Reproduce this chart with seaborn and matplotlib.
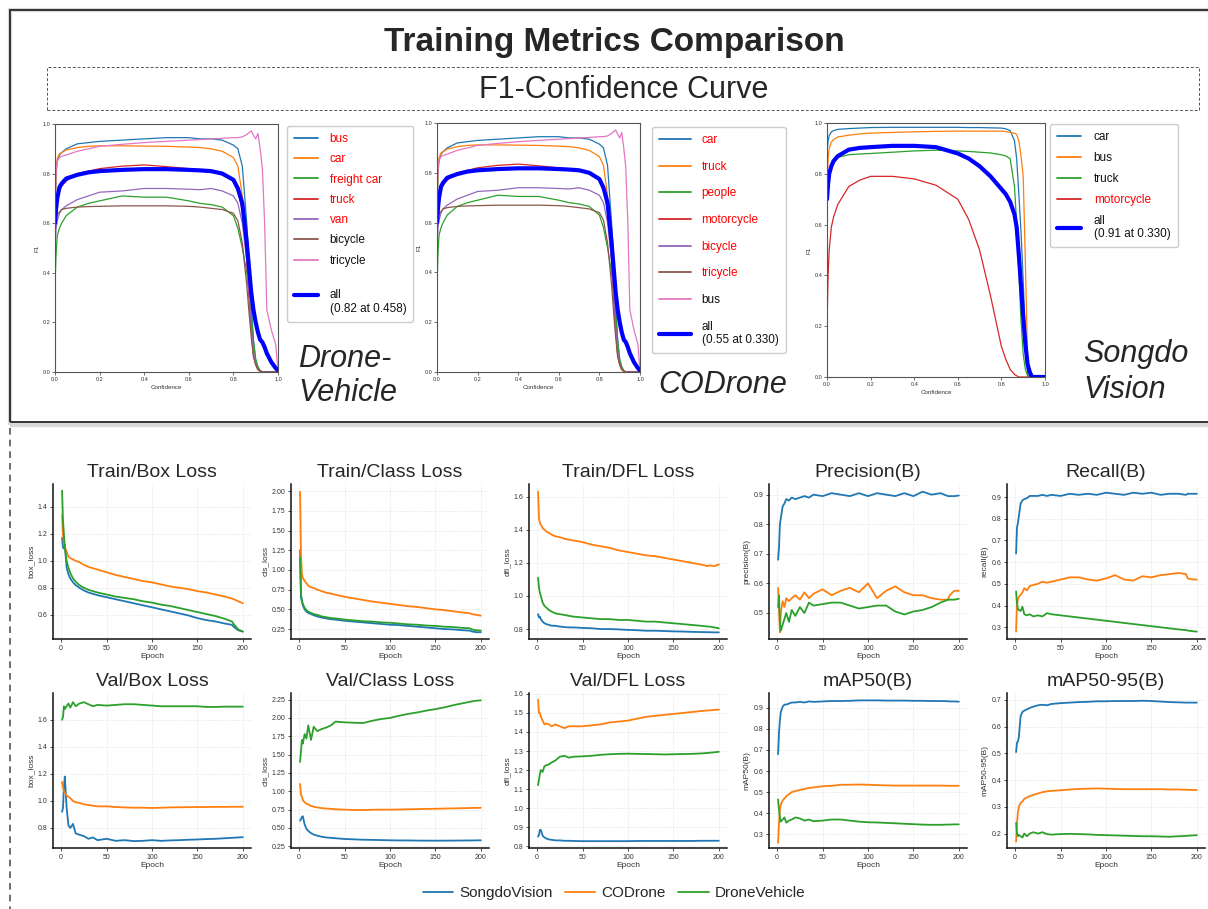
import numpy as np
import pandas as pd
import seaborn as sns
import matplotlib.pyplot as plt
from matplotlib.patches import Rectangle
from matplotlib.lines import Line2D

# ---------------- F1-confidence data ----------------
conf = [0.0, 0.005, 0.01, 0.02, 0.03, 0.05, 0.1, 0.15,
        0.2, 0.3, 0.4, 0.5, 0.6, 0.65, 0.7, 0.75,
        0.8, 0.82, 0.84, 0.86, 0.87, 0.88, 0.89, 0.9,
        0.91, 0.92, 0.93, 0.94, 0.95, 0.97, 0.99, 1.0]

# DroneVehicle panel (the CODrone panel shows the same curves)
dv_bus = [0.62, 0.80, 0.85, 0.875, 0.885, 0.90, 0.92, 0.925,
          0.93, 0.935, 0.94, 0.945, 0.945, 0.94, 0.94, 0.935,
          0.915, 0.90, 0.83, 0.60, 0.45, 0.27, 0.13, 0.05,
          0.02, 0.005, 0.0, 0.0, 0.0, 0.0, 0.0, 0.0]
dv_car = [0.60, 0.82, 0.86, 0.88, 0.885, 0.895, 0.905, 0.91,
          0.912, 0.912, 0.911, 0.91, 0.907, 0.905, 0.90, 0.89,
          0.865, 0.83, 0.71, 0.46, 0.33, 0.18, 0.07, 0.03,
          0.01, 0.0, 0.0, 0.0, 0.0, 0.0, 0.0, 0.0]
dv_freight = [0.35, 0.48, 0.55, 0.58, 0.60, 0.63, 0.665, 0.68,
              0.69, 0.71, 0.705, 0.705, 0.69, 0.68, 0.675, 0.665,
              0.63, 0.58, 0.50, 0.40, 0.32, 0.24, 0.12, 0.05,
              0.02, 0.005, 0.0, 0.0, 0.0, 0.0, 0.0, 0.0]
dv_truck = [0.60, 0.66, 0.70, 0.73, 0.75, 0.77, 0.80, 0.81,
            0.82, 0.83, 0.835, 0.828, 0.82, 0.815, 0.81, 0.80,
            0.77, 0.73, 0.65, 0.45, 0.30, 0.17, 0.07, 0.03,
            0.01, 0.005, 0.0, 0.0, 0.0, 0.0, 0.0, 0.0]
dv_van = [0.50, 0.58, 0.61, 0.64, 0.655, 0.67, 0.695, 0.71,
          0.725, 0.73, 0.74, 0.74, 0.737, 0.735, 0.74, 0.73,
          0.71, 0.68, 0.60, 0.45, 0.32, 0.18, 0.08, 0.03,
          0.01, 0.005, 0.0, 0.0, 0.0, 0.0, 0.0, 0.0]
dv_bicycle = [0.60, 0.62, 0.635, 0.645, 0.655, 0.66, 0.665, 0.667,
              0.668, 0.67, 0.67, 0.67, 0.668, 0.665, 0.66, 0.655,
              0.64, 0.61, 0.52, 0.35, 0.24, 0.14, 0.06, 0.03,
              0.01, 0.005, 0.0, 0.0, 0.0, 0.0, 0.0, 0.0]
dv_tricycle = [0.70, 0.82, 0.85, 0.865, 0.87, 0.875, 0.89, 0.90,
               0.91, 0.918, 0.925, 0.93, 0.935, 0.937, 0.94, 0.942,
               0.945, 0.945, 0.948, 0.958, 0.965, 0.972, 0.955, 0.94,
               0.962, 0.90, 0.82, 0.60, 0.25, 0.17, 0.11, 0.0]
dv_all = [0.60, 0.66, 0.70, 0.745, 0.76, 0.78, 0.795, 0.805,
          0.81, 0.815, 0.818, 0.818, 0.815, 0.813, 0.81, 0.80,
          0.775, 0.74, 0.68, 0.52, 0.42, 0.32, 0.25, 0.20,
          0.16, 0.13, 0.12, 0.10, 0.075, 0.04, 0.015, 0.007]

# SongdoVision panel
sv_car = [0.88, 0.93, 0.95, 0.965, 0.97, 0.975, 0.978, 0.98,
          0.982, 0.983, 0.983, 0.983, 0.983, 0.982, 0.982, 0.981,
          0.98, 0.977, 0.97, 0.93, 0.86, 0.72, 0.57, 0.38,
          0.15, 0.01, 0.0, 0.0, 0.0, 0.0, 0.0, 0.0]
sv_bus = [0.75, 0.86, 0.90, 0.925, 0.935, 0.945, 0.952, 0.957,
          0.96, 0.963, 0.965, 0.967, 0.968, 0.968, 0.968, 0.968,
          0.968, 0.966, 0.963, 0.96, 0.955, 0.93, 0.87, 0.79,
          0.45, 0.08, 0.0, 0.0, 0.0, 0.0, 0.0, 0.0]
sv_truck = [0.65, 0.76, 0.80, 0.84, 0.855, 0.865, 0.875, 0.878,
            0.88, 0.885, 0.89, 0.893, 0.89, 0.888, 0.885, 0.882,
            0.875, 0.87, 0.86, 0.75, 0.60, 0.42, 0.22, 0.09,
            0.03, 0.005, 0.0, 0.0, 0.0, 0.0, 0.0, 0.0]
sv_motorcycle = [0.20, 0.40, 0.50, 0.59, 0.63, 0.68, 0.75, 0.775,
                 0.79, 0.79, 0.78, 0.755, 0.70, 0.62, 0.50, 0.32,
                 0.12, 0.07, 0.03, 0.01, 0.005, 0.0, 0.0, 0.0,
                 0.0, 0.0, 0.0, 0.0, 0.0, 0.0, 0.0, 0.0]
sv_all = [0.70, 0.76, 0.80, 0.83, 0.85, 0.87, 0.895, 0.902,
          0.905, 0.91, 0.91, 0.905, 0.88, 0.86, 0.83, 0.79,
          0.74, 0.72, 0.69, 0.64, 0.59, 0.48, 0.36, 0.24,
          0.13, 0.05, 0.02, 0.0, 0.0, 0.0, 0.0, 0.0]

dv_labels = ["bus", "car", "freight car", "truck", "van", "bicycle", "tricycle",
             "\nall\n(0.82 at 0.458)"]
cd_labels = ["car", "truck", "people", "motorcycle", "bicycle", "tricycle", "bus",
             "all\n(0.55 at 0.330)"]
sv_labels = ["car", "bus", "truck", "motorcycle", "all\n(0.91 at 0.330)"]

# ---------------- training curves ----------------
epochs = [1, 2, 3, 4, 6, 8, 10, 13,
          16, 20, 25, 30, 35, 40, 50, 60,
          70, 80, 90, 100, 110, 120, 130, 140,
          150, 160, 170, 180, 188, 190, 195, 200]

train_box_sv = [1.17, 1.10, 1.09, 1.12, 0.95, 0.90, 0.87, 0.84,
                0.82, 0.80, 0.78, 0.765, 0.755, 0.745, 0.73, 0.715,
                0.70, 0.685, 0.67, 0.655, 0.64, 0.625, 0.61, 0.595,
                0.575, 0.56, 0.55, 0.535, 0.525, 0.51, 0.485, 0.475]
train_box_cd = [1.34, 1.20, 1.12, 1.10, 1.07, 1.03, 1.02, 1.01,
                1.00, 0.99, 0.97, 0.955, 0.945, 0.935, 0.915, 0.895,
                0.88, 0.865, 0.85, 0.84, 0.825, 0.81, 0.80, 0.79,
                0.775, 0.765, 0.75, 0.735, 0.72, 0.715, 0.70, 0.685]
train_box_dv = [1.52, 1.30, 1.20, 1.10, 1.00, 0.95, 0.91, 0.87,
                0.845, 0.82, 0.80, 0.785, 0.775, 0.765, 0.75, 0.735,
                0.725, 0.715, 0.70, 0.69, 0.675, 0.665, 0.65, 0.635,
                0.62, 0.605, 0.59, 0.57, 0.55, 0.53, 0.49, 0.475]

train_cls_sv = [1.25, 0.65, 0.60, 0.55, 0.50, 0.47, 0.455, 0.44,
                0.425, 0.41, 0.395, 0.385, 0.375, 0.37, 0.355, 0.345,
                0.335, 0.325, 0.315, 0.305, 0.30, 0.29, 0.28, 0.27,
                0.26, 0.25, 0.245, 0.235, 0.23, 0.22, 0.21, 0.21]
train_cls_cd = [1.99, 1.20, 0.95, 0.90, 0.86, 0.83, 0.80, 0.78,
                0.77, 0.75, 0.73, 0.71, 0.70, 0.685, 0.66, 0.64,
                0.62, 0.60, 0.585, 0.57, 0.555, 0.54, 0.53, 0.515,
                0.50, 0.49, 0.475, 0.46, 0.45, 0.44, 0.43, 0.42]
train_cls_dv = [1.15, 0.70, 0.62, 0.57, 0.52, 0.49, 0.47, 0.455,
                0.44, 0.43, 0.41, 0.40, 0.39, 0.385, 0.37, 0.36,
                0.35, 0.345, 0.335, 0.33, 0.32, 0.31, 0.305, 0.295,
                0.29, 0.28, 0.275, 0.265, 0.26, 0.245, 0.235, 0.23]

train_dfl_sv = [0.89, 0.87, 0.875, 0.86, 0.845, 0.835, 0.83, 0.825,
                0.82, 0.82, 0.815, 0.812, 0.81, 0.81, 0.807, 0.805,
                0.80, 0.80, 0.798, 0.795, 0.793, 0.79, 0.79, 0.788,
                0.786, 0.785, 0.783, 0.782, 0.781, 0.781, 0.78, 0.78]
train_dfl_cd = [1.63, 1.47, 1.44, 1.43, 1.41, 1.40, 1.39, 1.38,
                1.37, 1.36, 1.355, 1.345, 1.34, 1.335, 1.325, 1.31,
                1.30, 1.29, 1.275, 1.265, 1.255, 1.245, 1.24, 1.23,
                1.22, 1.21, 1.20, 1.19, 1.18, 1.185, 1.18, 1.19]
train_dfl_dv = [1.11, 1.05, 1.02, 1.00, 0.96, 0.94, 0.93, 0.915,
                0.905, 0.895, 0.89, 0.885, 0.88, 0.875, 0.87, 0.865,
                0.86, 0.86, 0.855, 0.855, 0.85, 0.845, 0.845, 0.84,
                0.835, 0.83, 0.825, 0.82, 0.815, 0.815, 0.81, 0.805]

precision_sv = [0.68, 0.72, 0.80, 0.82, 0.86, 0.87, 0.885, 0.88,
                0.89, 0.885, 0.89, 0.895, 0.89, 0.90, 0.895, 0.905,
                0.90, 0.895, 0.905, 0.895, 0.905, 0.90, 0.895, 0.905,
                0.895, 0.91, 0.90, 0.905, 0.895, 0.895, 0.895, 0.897]
precision_cd = [0.585, 0.52, 0.435, 0.50, 0.54, 0.52, 0.55, 0.54,
                0.55, 0.56, 0.545, 0.57, 0.55, 0.565, 0.58, 0.56,
                0.575, 0.585, 0.57, 0.60, 0.55, 0.575, 0.59, 0.57,
                0.56, 0.56, 0.55, 0.545, 0.545, 0.56, 0.575, 0.575]
precision_dv = [0.52, 0.56, 0.47, 0.44, 0.46, 0.48, 0.50, 0.47,
                0.51, 0.49, 0.52, 0.50, 0.535, 0.525, 0.53, 0.535,
                0.535, 0.525, 0.515, 0.52, 0.525, 0.525, 0.505, 0.495,
                0.505, 0.51, 0.52, 0.535, 0.545, 0.545, 0.545, 0.548]

recall_sv = [0.64, 0.76, 0.78, 0.81, 0.87, 0.885, 0.89, 0.895,
             0.905, 0.905, 0.905, 0.91, 0.905, 0.91, 0.905, 0.915,
             0.91, 0.915, 0.91, 0.92, 0.915, 0.91, 0.92, 0.915,
             0.92, 0.91, 0.915, 0.915, 0.91, 0.915, 0.915, 0.915]
recall_cd = [0.28, 0.40, 0.43, 0.44, 0.45, 0.46, 0.48, 0.47,
             0.49, 0.495, 0.50, 0.51, 0.505, 0.51, 0.52, 0.53,
             0.53, 0.52, 0.515, 0.525, 0.54, 0.52, 0.515, 0.535,
             0.53, 0.54, 0.545, 0.55, 0.545, 0.525, 0.52, 0.52]
recall_dv = [0.465, 0.41, 0.385, 0.38, 0.375, 0.395, 0.36, 0.355,
             0.36, 0.35, 0.355, 0.35, 0.365, 0.36, 0.355, 0.35,
             0.345, 0.34, 0.335, 0.33, 0.325, 0.32, 0.315, 0.31,
             0.305, 0.30, 0.295, 0.29, 0.287, 0.285, 0.282, 0.28]

val_box_sv = [0.92, 0.95, 1.10, 1.18, 0.95, 0.82, 0.80, 0.83,
              0.76, 0.75, 0.74, 0.72, 0.73, 0.71, 0.72, 0.705,
              0.71, 0.703, 0.705, 0.71, 0.705, 0.708, 0.71, 0.713,
              0.715, 0.718, 0.72, 0.724, 0.727, 0.728, 0.73, 0.732]
val_box_cd = [1.14, 1.10, 1.07, 1.06, 1.04, 1.03, 1.02, 1.00,
              0.99, 0.985, 0.975, 0.97, 0.965, 0.96, 0.96, 0.955,
              0.952, 0.95, 0.95, 0.948, 0.95, 0.952, 0.953, 0.954,
              0.955, 0.955, 0.956, 0.956, 0.957, 0.957, 0.957, 0.957]
val_box_dv = [1.60, 1.62, 1.70, 1.68, 1.70, 1.72, 1.69, 1.73,
              1.70, 1.72, 1.73, 1.715, 1.70, 1.71, 1.705, 1.71,
              1.715, 1.715, 1.71, 1.705, 1.70, 1.70, 1.70, 1.70,
              1.70, 1.695, 1.695, 1.697, 1.697, 1.697, 1.697, 1.697]

val_cls_sv = [0.60, 0.62, 0.65, 0.66, 0.55, 0.49, 0.46, 0.43,
              0.41, 0.395, 0.38, 0.37, 0.365, 0.36, 0.35, 0.345,
              0.34, 0.338, 0.335, 0.332, 0.33, 0.33, 0.328, 0.327,
              0.327, 0.327, 0.328, 0.329, 0.33, 0.33, 0.331, 0.332]
val_cls_cd = [1.10, 0.95, 0.93, 0.88, 0.85, 0.83, 0.82, 0.80,
              0.79, 0.78, 0.77, 0.765, 0.76, 0.755, 0.75, 0.745,
              0.745, 0.748, 0.75, 0.75, 0.752, 0.755, 0.757, 0.76,
              0.762, 0.765, 0.767, 0.77, 0.772, 0.773, 0.774, 0.775]
val_cls_dv = [1.40, 1.55, 1.70, 1.65, 1.78, 1.72, 1.90, 1.70,
              1.88, 1.82, 1.85, 1.87, 1.90, 1.95, 1.94, 1.935,
              1.93, 1.96, 1.985, 2.00, 2.03, 2.055, 2.075, 2.10,
              2.12, 2.145, 2.175, 2.20, 2.22, 2.225, 2.235, 2.24]

val_dfl_sv = [0.85, 0.86, 0.885, 0.885, 0.855, 0.845, 0.84, 0.835,
              0.833, 0.83, 0.83, 0.828, 0.828, 0.827, 0.826, 0.826,
              0.826, 0.826, 0.826, 0.826, 0.827, 0.827, 0.827, 0.827,
              0.827, 0.827, 0.827, 0.828, 0.828, 0.828, 0.828, 0.828]
val_dfl_cd = [1.57, 1.50, 1.50, 1.48, 1.46, 1.44, 1.445, 1.44,
              1.43, 1.44, 1.43, 1.42, 1.43, 1.43, 1.43, 1.435,
              1.44, 1.45, 1.455, 1.46, 1.47, 1.48, 1.485, 1.49,
              1.495, 1.50, 1.505, 1.51, 1.513, 1.514, 1.516, 1.518]
val_dfl_dv = [1.12, 1.15, 1.18, 1.20, 1.19, 1.22, 1.225, 1.23,
              1.24, 1.25, 1.27, 1.275, 1.265, 1.27, 1.272, 1.275,
              1.28, 1.283, 1.285, 1.286, 1.285, 1.284, 1.283, 1.282,
              1.283, 1.284, 1.285, 1.287, 1.29, 1.291, 1.293, 1.296]

map50_sv = [0.68, 0.78, 0.84, 0.88, 0.905, 0.915, 0.915, 0.92,
            0.925, 0.925, 0.928, 0.925, 0.93, 0.928, 0.93, 0.932,
            0.932, 0.933, 0.935, 0.935, 0.935, 0.934, 0.934, 0.934,
            0.933, 0.933, 0.932, 0.932, 0.931, 0.93, 0.93, 0.929]
map50_cd = [0.26, 0.35, 0.42, 0.44, 0.46, 0.47, 0.48, 0.49,
            0.50, 0.505, 0.51, 0.515, 0.52, 0.522, 0.528, 0.53,
            0.535, 0.535, 0.536, 0.535, 0.533, 0.532, 0.531, 0.531,
            0.531, 0.531, 0.531, 0.531, 0.53, 0.53, 0.53, 0.53]
map50_dv = [0.465, 0.42, 0.38, 0.36, 0.37, 0.38, 0.355, 0.365,
            0.37, 0.38, 0.375, 0.365, 0.37, 0.362, 0.365, 0.37,
            0.37, 0.365, 0.36, 0.357, 0.356, 0.354, 0.352, 0.35,
            0.348, 0.346, 0.345, 0.345, 0.346, 0.346, 0.347, 0.347]

map5095_sv = [0.505, 0.54, 0.545, 0.56, 0.64, 0.655, 0.66, 0.665,
              0.67, 0.675, 0.68, 0.682, 0.68, 0.685, 0.688, 0.69,
              0.692, 0.693, 0.695, 0.695, 0.696, 0.696, 0.696, 0.697,
              0.696, 0.694, 0.692, 0.691, 0.69, 0.69, 0.69, 0.69]
map5095_cd = [0.17, 0.24, 0.28, 0.30, 0.315, 0.32, 0.33, 0.335,
              0.34, 0.345, 0.35, 0.355, 0.358, 0.36, 0.362, 0.365,
              0.367, 0.368, 0.369, 0.368, 0.367, 0.366, 0.366, 0.366,
              0.366, 0.366, 0.365, 0.365, 0.364, 0.364, 0.363, 0.363]
map5095_dv = [0.24, 0.20, 0.19, 0.195, 0.19, 0.185, 0.20, 0.19,
              0.20, 0.205, 0.20, 0.205, 0.198, 0.196, 0.198, 0.199,
              0.198, 0.197, 0.195, 0.194, 0.193, 0.192, 0.191, 0.19,
              0.19, 0.189, 0.188, 0.19, 0.191, 0.192, 0.193, 0.194]

datasets = ["SongdoVision", "CODrone", "DroneVehicle"]

# ---------------- figure ----------------
sns.set_theme(style="ticks")
plt.rcParams["font.family"] = ["Liberation Sans", "DejaVu Sans"]

W, H = 1208, 909
fig = plt.figure(figsize=(W / 100, H / 100), dpi=100)


def box(l, t, r, b):
    # pixel box -> figure fraction rect
    return [l / W, 1 - b / H, (r - l) / W, (b - t) / H]


# frames
fig.add_artist(Rectangle((10 / W, 1 - 425 / H), 1300 / W, 415 / H, transform=fig.transFigure,
                         fill=False, edgecolor="#d8d8d8", lw=3))
fig.add_artist(Rectangle((10 / W, 1 - 422 / H), 1300 / W, 412 / H, transform=fig.transFigure,
                         fill=False, edgecolor="#333333", lw=1.4))
fig.add_artist(Rectangle((47 / W, 1 - 110 / H), 1152 / W, 43 / H, transform=fig.transFigure,
                         fill=False, edgecolor="#555555", lw=0.7, ls=(0, (3, 2))))
fig.add_artist(Line2D([10 / W, 10 / W], [1 - 428 / H, 0], transform=fig.transFigure,
                      color="#555555", lw=1.2, ls=(0, (4, 3))))

fig.text(614 / W, 1 - 42 / H, "Training Metrics Comparison", ha="center", va="center",
         fontsize=24, fontweight="bold")
fig.text(624 / W, 1 - 90 / H, "F1-Confidence Curve", ha="center", va="center", fontsize=22)

class_colors = ["#1f77b4", "#ff7f0e", "#2ca02c", "#d62728", "#9467bd", "#8c564b", "#e377c2"]


def f1_panel(rect, curves, labels, red, leg_xy, leg_kw):
    ax = fig.add_axes(box(*rect))
    for i, vals in enumerate(curves):
        last = i == len(curves) - 1
        sns.lineplot(x=conf, y=vals, ax=ax, color="blue" if last else class_colors[i],
                     linewidth=3 if last else 0.9, estimator=None)
    ax.set_xlim(0, 1)
    ax.set_ylim(0, 1)
    ax.set_xticks(np.arange(0, 1.01, 0.2))
    ax.set_yticks(np.arange(0, 1.01, 0.2))
    ax.tick_params(labelsize=4, length=2, width=0.5, pad=1.5, colors="#333333")
    ax.set_xlabel("Confidence", fontsize=4.5, labelpad=2, color="#333333")
    ax.set_ylabel("F1", fontsize=4.5, labelpad=2, color="#333333")
    for s in ax.spines.values():
        s.set_color("#555555")
        s.set_linewidth(0.8)
    leg = ax.legend(ax.get_lines(), labels, loc="upper left",
                    bbox_to_anchor=(leg_xy[0] / W, 1 - leg_xy[1] / H),
                    bbox_transform=fig.transFigure, borderaxespad=0, frameon=True,
                    edgecolor="#cccccc", framealpha=1,
                    prop={"family": "Liberation Sans", "size": 8.5}, **leg_kw)
    for i, t in enumerate(leg.get_texts()):
        t.set_color("red" if i in red else "#111111")
    for h in leg.legend_handles[:-1]:
        h.set_linewidth(1.3)
    return ax


f1_panel((55, 124, 278, 372),
         [dv_bus, dv_car, dv_freight, dv_truck, dv_van, dv_bicycle, dv_tricycle, dv_all],
         dv_labels, [0, 1, 2, 3, 4], (287, 126),
         dict(labelspacing=0.7, handlelength=2.0, handletextpad=1.0, borderpad=0.6))
f1_panel((437, 123, 640, 372),
         [dv_bus, dv_car, dv_freight, dv_truck, dv_van, dv_bicycle, dv_tricycle, dv_all],
         cd_labels, [0, 1, 2, 3, 4, 5], (652, 127),
         dict(labelspacing=1.24, handlelength=2.7, handletextpad=0.9, borderpad=0.6))
f1_panel((827, 123, 1045, 377),
         [sv_car, sv_bus, sv_truck, sv_motorcycle, sv_all],
         sv_labels, [3], (1050, 124),
         dict(labelspacing=0.75, handlelength=2.0, handletextpad=1.1, borderpad=0.6))

fig.text(298 / W, 1 - 376 / H, "Drone-\nVehicle", ha="left", va="center", fontsize=22,
         style="italic", linespacing=1.2)
fig.text(658 / W, 1 - 385 / H, "CODrone", ha="left", va="center", fontsize=22, style="italic")
fig.text(1083 / W, 1 - 372 / H, "Songdo\nVision", ha="left", va="center", fontsize=22,
         style="italic", linespacing=1.25)

# ---------------- training metric grid ----------------
palette = {"SongdoVision": "#1f77b4", "CODrone": "#ff7f0e", "DroneVehicle": "#2ca02c"}

metrics = [
    ("Train/Box Loss", "box_loss", (0.42, 1.57), np.arange(0.6, 1.41, 0.2),
     train_box_sv, train_box_cd, train_box_dv),
    ("Train/Class Loss", "cls_loss", (0.124, 2.09), np.arange(0.25, 2.01, 0.25),
     train_cls_sv, train_cls_cd, train_cls_dv),
    ("Train/DFL Loss", "dfl_loss", (0.74, 1.676), np.arange(0.8, 1.61, 0.2),
     train_dfl_sv, train_dfl_cd, train_dfl_dv),
    ("Precision(B)", "precision(B)", (0.412, 0.936), np.arange(0.5, 0.91, 0.1),
     precision_sv, precision_cd, precision_dv),
    ("Recall(B)", "recall(B)", (0.246, 0.96), np.arange(0.3, 0.91, 0.1),
     recall_sv, recall_cd, recall_dv),
    ("Val/Box Loss", "box_loss", (0.652, 1.798), np.arange(0.8, 1.61, 0.2),
     val_box_sv, val_box_cd, val_box_dv),
    ("Val/Class Loss", "cls_loss", (0.227, 2.34), np.arange(0.25, 2.26, 0.25),
     val_cls_sv, val_cls_cd, val_cls_dv),
    ("Val/DFL Loss", "dfl_loss", (0.79, 1.605), np.arange(0.8, 1.61, 0.1),
     val_dfl_sv, val_dfl_cd, val_dfl_dv),
    ("mAP50(B)", "mAP50(B)", (0.235, 0.97), np.arange(0.3, 0.91, 0.1),
     map50_sv, map50_cd, map50_dv),
    ("mAP50-95(B)", "mAP50-95(B)", (0.146, 0.726), np.arange(0.2, 0.71, 0.1),
     map5095_sv, map5095_cd, map5095_dv),
]

col_left = [53, 291, 529, 769, 1007]
row_top = [484, 693]
row_bot = [639, 848]

first_ax = None
for k, (title, ylab, ylim, yticks, s_sv, s_cd, s_dv) in enumerate(metrics):
    r, c = divmod(k, 5)
    ax = fig.add_axes(box(col_left[c], row_top[r], col_left[c] + 198, row_bot[r]))
    df = pd.DataFrame({
        "Epoch": epochs * 3,
        "value": s_sv + s_cd + s_dv,
        "dataset": [d for d in datasets for _ in epochs],
    })
    sns.lineplot(data=df, x="Epoch", y="value", hue="dataset", hue_order=datasets,
                 palette=palette, ax=ax, legend=False, linewidth=1.3, estimator=None)
    ax.set_xlim(-9, 209)
    ax.set_ylim(*ylim)
    ax.set_xticks([0, 50, 100, 150, 200])
    ax.set_yticks(yticks)
    ax.set_title(title, fontsize=14, pad=5)
    ax.set_ylabel(ylab, fontsize=6, labelpad=2, color="#333333")
    ax.set_xlabel("Epoch", fontsize=6, labelpad=1, color="#333333")
    ax.tick_params(labelsize=5, length=2, width=0.6, pad=2, colors="#333333")
    ax.grid(True, ls=":", lw=0.5, color="#d5d5d5")
    sns.despine(ax=ax)
    for s in ("left", "bottom"):
        ax.spines[s].set_color("#111111")
        ax.spines[s].set_linewidth(1.1)
    if first_ax is None:
        first_ax = ax

fig.legend(first_ax.get_lines()[:3], datasets, loc="center", ncol=3,
           bbox_to_anchor=(614 / W, 1 - 893 / H), frameon=False, fontsize=11,
           handlelength=2.0, handletextpad=0.4, columnspacing=0.8)

plt.savefig("out.png", dpi=100)
